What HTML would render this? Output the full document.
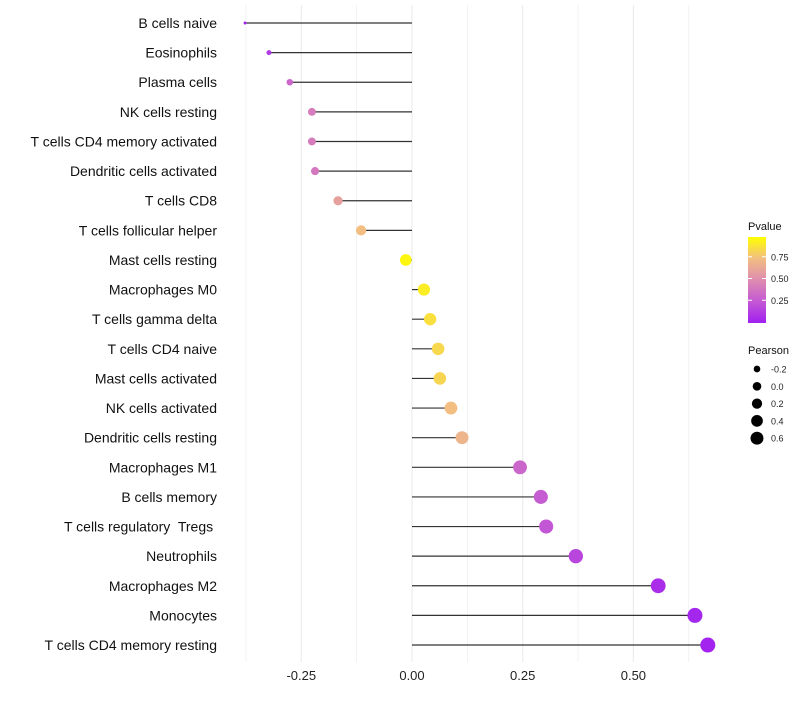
<!DOCTYPE html>
<html><head><meta charset="utf-8"><style>
body{margin:0;background:#fff;font-family:"Liberation Sans",sans-serif}
svg text{font-family:"Liberation Sans",sans-serif;white-space:pre}
</style></head><body>
<svg id="chart" width="800" height="700"></svg>
<script>
const categories=["B cells naive","Eosinophils","Plasma cells","NK cells resting","T cells CD4 memory activated","Dendritic cells activated","T cells CD8","T cells follicular helper","Mast cells resting","Macrophages M0","T cells gamma delta","T cells CD4 naive","Mast cells activated","NK cells activated","Dendritic cells resting","Macrophages M1","B cells memory","T cells regulatory  Tregs ","Neutrophils","Macrophages M2","Monocytes","T cells CD4 memory resting"];
const pearson=[-0.377,-0.323,-0.276,-0.226,-0.226,-0.219,-0.167,-0.115,-0.014,0.027,0.041,0.059,0.063,0.088,0.113,0.244,0.291,0.303,0.370,0.556,0.639,0.668];
const pvalue=[0.02,0.12,0.32,0.42,0.42,0.4,0.6,0.75,0.97,0.93,0.88,0.85,0.84,0.75,0.7,0.32,0.27,0.24,0.17,0.06,0.03,0.02];
const xTicks=[-0.25,0,0.25,0.5];
const xTickLabels=["-0.25","0.00","0.25","0.50"];
const pTicks=[0.25,0.5,0.75];
const sizeLegend=[-0.2,0,0.2,0.4,0.6];
const NS="http://www.w3.org/2000/svg";
const svg=document.getElementById('chart');
function el(t,a,p){const e=document.createElementNS(NS,t);for(const k in a)e.setAttribute(k,a[k]);(p||svg).appendChild(e);return e;}
const x=v=>412+v*442.8;
const y=i=>23+i*29.62;
const rad=v=>1.5+6.2*(1-Math.exp(-(v+0.377)/0.3));
const legRad=v=>Math.sqrt(Math.max(18.75+38.75*v,1.5));
const stops=[[0,[160,32,240]],[0.25,[196,88,212]],[0.5,[222,140,175]],[0.75,[242,190,130]],[1,[255,255,0]]];
function col(p){for(let i=1;i<stops.length;i++){if(p<=stops[i][0]){const a=stops[i-1],b=stops[i],t=(p-a[0])/(b[0]-a[0]);return 'rgb('+a[1].map((c,j)=>Math.round(c+(b[1][j]-c)*t)).join(',')+')';}}return 'rgb(255,255,0)';}
[-0.375,-0.25,-0.125,0,0.125,0.25,0.375,0.5,0.625].forEach(v=>{
 const g=el('line',{x1:x(v),x2:x(v),y1:5,y2:662,stroke:'#ebebeb','stroke-width':Math.abs(v*8)%2===0?1.1:0.6});
 });
xTicks.forEach((v,i)=>{const t=el('text',{x:x(v),y:680,'text-anchor':'middle','font-size':13,fill:'#222'});t.textContent=xTickLabels[i];
 });
categories.forEach((c,i)=>{
 const t=el('text',{x:217,y:y(i)+5,'text-anchor':'end','font-size':14,fill:'#111'});t.textContent=c;
 
 const l=el('line',{x1:x(0),x2:x(pearson[i]),y1:y(i),y2:y(i),stroke:'#333','stroke-width':1.2});
 
 const d=el('circle',{cx:x(pearson[i]),cy:y(i),r:rad(pearson[i]),fill:col(pvalue[i])});
 
});
const lt=el('text',{x:748,y:230,'font-size':11,fill:'#111'});lt.textContent='Pvalue';

const defs=el('defs',{});const gr=el('linearGradient',{id:'pg',x1:0,y1:1,x2:0,y2:0},defs);
stops.forEach(s=>el('stop',{offset:s[0],'stop-color':'rgb('+s[1].join(',')+')'},gr));
const pb=el('rect',{x:748,y:237,width:18,height:86,fill:'url(#pg)'});

const py=p=>322-p*87;
pTicks.forEach(p=>{const t=el('text',{x:771,y:py(p)+3.5,'font-size':9,fill:'#222'});t.textContent=p.toFixed(2);
 
 el('line',{x1:748,x2:752,y1:py(p),y2:py(p),stroke:'#fff'});el('line',{x1:762,x2:766,y1:py(p),y2:py(p),stroke:'#fff'});});
const st=el('text',{x:748,y:354,'font-size':11,fill:'#111'});st.textContent='Pearson';

sizeLegend.forEach((v,i)=>{const cy=369+i*17.3;
 const c=el('circle',{cx:757,cy:cy,r:legRad(v),fill:'#000'});
 const t=el('text',{x:771,y:cy+3.5,'font-size':9,fill:'#222'});t.textContent=v.toFixed(1);
 });
</script>
</body></html>
